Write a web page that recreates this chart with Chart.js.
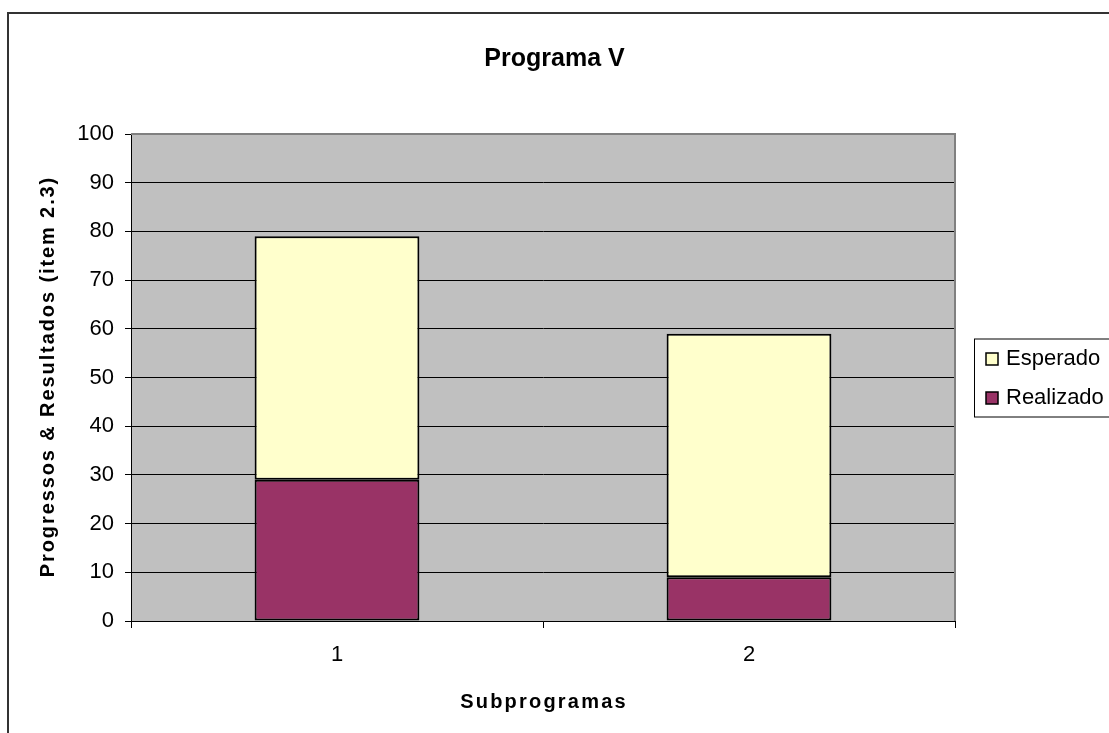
<!DOCTYPE html>
<html>
<head>
<meta charset="utf-8">
<title>Programa V</title>
<script src="https://cdn.jsdelivr.net/npm/chart.js@4.4.1/dist/chart.umd.min.js"></script>
<style>
  html, body { margin: 0; padding: 0; background: #fff; }
  canvas { display: block; }
</style>
</head>
<body>
<canvas id="grafico" width="1109" height="733"></canvas>
<script>
// subprogramas e valores (percentagens)
const categorias = ["1", "2"];
const realizado = [29, 9];
const esperado = [50, 50];
const escalaMin = 0;
const escalaMax = 100;
const escalaPasso = 10;

const tituloGrafico = "Programa V";
const tituloX = "Subprogramas";
const tituloY = "Progressos & Resultados (item 2.3)";

const FONTE = '"Liberation Sans", Arial, sans-serif';

// fundo cinzento da area do grafico + moldura exterior
const fundoPlugin = {
  id: "fundo",
  beforeDraw(chart) {
    const { ctx, chartArea: a } = chart;
    ctx.save();
    ctx.fillStyle = "#c0c0c0";
    ctx.fillRect(a.left, a.top, a.right - a.left, a.bottom - a.top);
    ctx.strokeStyle = "#333";
    ctx.lineWidth = 2;
    ctx.strokeRect(8, 13, chart.width + 20, chart.height + 20);
    ctx.restore();
  },
  afterDraw(chart) {
    const { ctx, chartArea: a } = chart;
    ctx.save();
    // borda cinzenta em cima e a direita
    ctx.strokeStyle = "#808080";
    ctx.lineWidth = 2;
    ctx.beginPath();
    ctx.moveTo(a.left, a.top);
    ctx.lineTo(a.right, a.top);
    ctx.lineTo(a.right, a.bottom);
    ctx.stroke();
    ctx.restore();
  }
};

// titulo principal (centrado na tela) e titulos dos eixos
const titulosPlugin = {
  id: "titulos",
  afterDraw(chart) {
    const { ctx, chartArea: a } = chart;
    ctx.save();
    ctx.fillStyle = "#000";
    ctx.textAlign = "center";
    ctx.textBaseline = "middle";
    ctx.font = "bold 25px " + FONTE;
    ctx.fillText(tituloGrafico, chart.width / 2, a.top - 75);

    ctx.font = "bold 20px " + FONTE;
    ctx.letterSpacing = "2.2px";
    ctx.fillText(tituloX, (a.left + a.right) / 2 + 1, a.bottom + 81);
    ctx.letterSpacing = "1.9px";
    ctx.translate(a.left - 83, (a.top + a.bottom) / 2);
    ctx.rotate(-Math.PI / 2);
    ctx.fillText(tituloY, 1, 0);
    ctx.restore();
  }
};

// legenda com caixa, ordem inversa das series
const legendaPlugin = {
  id: "legendaCaixa",
  afterDraw(chart) {
    const { ctx, chartArea: a } = chart;
    const itens = chart.data.datasets.slice().reverse();
    const esq = a.right + 19;
    const meio = (a.top + a.bottom) / 2;
    const passo = 39;
    const topo = meio - (itens.length * passo) / 2;
    ctx.save();
    ctx.strokeStyle = "#000";
    ctx.lineWidth = 1;
    ctx.strokeRect(esq + 0.5, topo + 0.5, 200, itens.length * passo);
    ctx.font = "22px " + FONTE;
    ctx.textBaseline = "middle";
    itens.forEach((ds, i) => {
      const cy = topo + passo / 2 + i * passo + 1;
      ctx.fillStyle = ds.backgroundColor;
      ctx.fillRect(esq + 12, cy - 6, 12, 12);
      ctx.strokeStyle = "#000";
      ctx.lineWidth = 1.5;
      ctx.strokeRect(esq + 12, cy - 6, 12, 12);
      ctx.fillStyle = "#000";
      ctx.fillText(ds.label, esq + 32, cy);
    });
    ctx.restore();
  }
};

const grafico = new Chart(document.getElementById("grafico"), {
  type: "bar",
  data: {
    labels: categorias,
    datasets: [
      {
        label: "Realizado",
        data: realizado,
        backgroundColor: "#993366",
        borderColor: "#000",
        borderWidth: 2,
        borderSkipped: false
      },
      {
        label: "Esperado",
        data: esperado,
        backgroundColor: "#ffffcc",
        borderColor: "#000",
        borderWidth: 2,
        borderSkipped: false
      }
    ]
  },
  options: {
    responsive: false,
    devicePixelRatio: 1,
    animation: false,
    layout: { padding: { top: 134, right: 154, bottom: 0, left: 0 } },
    datasets: {
      bar: { categoryPercentage: 1, barPercentage: 0.4 }
    },
    plugins: {
      legend: { display: false },
      tooltip: { enabled: false },
      title: { display: false }
    },
    scales: {
      x: {
        stacked: true,
        offset: true,
        afterFit(s) { s.height = 112; },
        grid: {
          offset: true,
          drawOnChartArea: false,
          drawTicks: true,
          tickLength: 7,
          color: "#000"
        },
        border: { display: true, color: "#000", width: 1 },
        ticks: {
          color: "#000",
          padding: 14,
          font: { family: FONTE, size: 22 }
        }
      },
      y: {
        stacked: true,
        min: escalaMin,
        max: escalaMax,
        afterFit(s) { s.width = 131; },
        grid: {
          color: "#000",
          lineWidth: 1,
          tickLength: 6,
          drawTicks: true
        },
        border: { display: true, color: "#000", width: 1 },
        ticks: {
          stepSize: escalaPasso,
          color: "#000",
          padding: 11,
          font: { family: FONTE, size: 22 }
        }
      }
    }
  },
  plugins: [fundoPlugin, titulosPlugin, legendaPlugin]
});
</script>
</body>
</html>
